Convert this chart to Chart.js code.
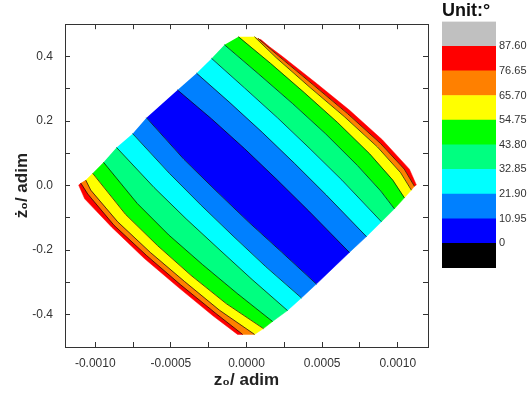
<!DOCTYPE html>
<html lang="en">

<head>
    <meta charset="UTF-8">
    <title>Contour map z0 / z0 dot</title>
    <script src="https://cdn.jsdelivr.net/npm/chart.js"></script>
    <style>
        body {
            margin: 0;
            background-color: #ffffff;
        }

        .wrap {
            position: relative;
            width: 528px;
            height: 397px;
        }

        #contour {
            position: absolute;
            left: 0;
            top: 0;
        }

        #colorbar {
            position: absolute;
            left: 432px;
            top: 0;
        }
    </style>
</head>

<body>
    <div class="wrap">
        <canvas id="contour" width="528" height="397"></canvas>
        <canvas id="colorbar" width="96" height="280"></canvas>
    </div>

    <script>
        // contour levels (degrees) and colour classes: below 0, 0-10.95, ..., above 87.60
        const levels = [0, 10.95, 21.90, 32.85, 43.80, 54.75, 65.70, 76.65, 87.60];
        const levelLabels = ['0', '10.95', '21.90', '32.85', '43.80', '54.75', '65.70', '76.65', '87.60'];
        const classColors = ['#000000', '#0000ff', '#0080ff', '#00ffff', '#00ff80', '#00ff00', '#ffff00', '#ff8000', '#ff0000', '#c0c0c0'];
        const barEdges = [-10.95, 0, 10.95, 21.90, 32.85, 43.80, 54.75, 65.70, 76.65, 87.60, 98.55];

        // axis ticks
        const xTicks = [-0.0010, -0.00075, -0.0005, -0.00025, 0, 0.00025, 0.0005, 0.00075, 0.0010];
        const xTickLabels = ['-0.0010', '', '-0.0005', '', '0.0000', '', '0.0005', '', '0.0010'];
        const yTicks = [-0.5, -0.4, -0.3, -0.2, -0.1, 0, 0.1, 0.2, 0.3, 0.4, 0.5];
        const yTickLabels = ['', '-0.4', '', '-0.2', '', '0.0', '', '0.2', '', '0.4', ''];

        // contour lines [z0, z0dot], each from the upper-left edge to the lower-right edge
        const edgeLow = [[-0.001110, 0.002], [-0.001070, -0.041], [-0.000891, -0.129], [-0.000677, -0.225], [-0.000451, -0.315], [-0.000220, -0.404], [-0.000059, -0.461]];
        const lowRed = [[-0.001096, 0.008], [-0.001050, -0.026], [-0.000876, -0.123], [-0.000660, -0.217], [-0.000434, -0.308], [-0.000203, -0.396], [-0.000026, -0.461]];
        const lowOrange = [[-0.001063, 0.017], [-0.001030, -0.014], [-0.000852, -0.112], [-0.000636, -0.207], [-0.000410, -0.297], [-0.000179, -0.386], [0.000053, -0.461]];
        const lowYellow = [[-0.001017, 0.038], [-0.000800, -0.089], [-0.000588, -0.186], [-0.000367, -0.278], [-0.000133, -0.366], [0.000112, -0.443]];
        const lowGreen = [[-0.000945, 0.072], [-0.000723, -0.055], [-0.000514, -0.153], [-0.000290, -0.245], [-0.000062, -0.334], [0.000172, -0.421]];
        const lowMint = [[-0.000859, 0.118], [-0.000611, -0.006], [-0.000399, -0.103], [-0.000182, -0.197], [0.000037, -0.291], [0.000271, -0.387]];
        const lowCyan = [[-0.000753, 0.161], [-0.000510, 0.038], [-0.000302, -0.060], [-0.000089, -0.156], [0.000127, -0.251], [0.000363, -0.348]];
        const lowAzure = [[-0.000661, 0.210], [-0.000413, 0.081], [-0.000202, -0.016], [0.000012, -0.112], [0.000230, -0.205], [0.000462, -0.305]];
        const upAzure = [[-0.000456, 0.296], [-0.000232, 0.207], [-0.000012, 0.114], [0.000202, 0.018], [0.000412, -0.079], [0.000680, -0.207]];
        const upCyan = [[-0.000330, 0.348], [-0.000115, 0.259], [0.000104, 0.165], [0.000317, 0.069], [0.000527, -0.029], [0.000793, -0.158]];
        const upMint = [[-0.000231, 0.394], [-0.000014, 0.303], [0.000205, 0.210], [0.000420, 0.114], [0.000631, 0.017], [0.000892, -0.112]];
        const upGreen = [[-0.000145, 0.436], [0.000082, 0.345], [0.000305, 0.254], [0.000524, 0.160], [0.000734, 0.062], [0.000888, -0.017], [0.000978, -0.072]];
        const upYellow = [[-0.000053, 0.461], [0.000158, 0.379], [0.000382, 0.288], [0.000603, 0.195], [0.000815, 0.098], [0.000967, 0.017], [0.001044, -0.038]];
        const upOrange = [[0.000053, 0.461], [0.000197, 0.396], [0.000420, 0.304], [0.000646, 0.214], [0.000865, 0.120], [0.001019, 0.040], [0.001090, -0.014]];
        const upRed = [[0.000076, 0.456], [0.000211, 0.402], [0.000439, 0.313], [0.000668, 0.223], [0.000887, 0.130], [0.001043, 0.051], [0.001110, -0.002]];
        const edgeUp = [[0.000093, 0.453], [0.000152, 0.430], [0.000238, 0.400], [0.000462, 0.317], [0.000680, 0.234], [0.000898, 0.142], [0.001077, 0.051], [0.001123, 0.002]];

        // colour class of each strip between two neighbouring lines
        const stripClass = [8, 7, 6, 5, 4, 3, 2, 1, 2, 3, 4, 5, 6, 7, 8];

        const lines = [edgeLow, lowRed, lowOrange, lowYellow, lowGreen, lowMint, lowCyan, lowAzure,
            upAzure, upCyan, upMint, upGreen, upYellow, upOrange, upRed, edgeUp];

        const toXY = arr => arr.map(p => ({ x: p[0], y: p[1] }));

        var datasets = [];

        // thin dark contour lines, drawn on top
        for (let i = 1; i < lines.length - 1; i++) {
            datasets.push({
                data: toXY(lines[i]),
                showLine: true,
                fill: false,
                borderColor: 'rgba(0,0,0,0.85)',
                borderWidth: 0.8,
                pointRadius: 0,
                order: 0
            });
        }

        // filled strips: line i and line i+1 reversed make a closed shape
        for (let i = 0; i < stripClass.length; i++) {
            const shape = lines[i].concat(lines[i + 1].slice().reverse());
            datasets.push({
                data: toXY(shape),
                showLine: true,
                fill: 'shape',
                backgroundColor: classColors[stripClass[i]],
                borderColor: classColors[stripClass[i]],
                borderWidth: 0.5,
                pointRadius: 0,
                order: 1
            });
        }

        var tickFont = { family: 'Liberation Sans', size: 12 };
        var titleFont = { family: 'Liberation Sans', size: 17, weight: 'bold' };
        var frame = { display: true, color: '#333333', width: 1 };

        function innerGrid() {
            return { display: true, drawOnChartArea: false, drawTicks: true, tickLength: -5, tickColor: '#333333', tickWidth: 1 };
        }

        var contourChart = new Chart(document.getElementById('contour').getContext('2d'), {
            type: 'scatter',
            data: { datasets: datasets },
            options: {
                responsive: false,
                animation: false,
                layout: { padding: { left: 0, right: 100, top: 20, bottom: 0 } },
                plugins: {
                    legend: { display: false },
                    tooltip: { enabled: false }
                },
                scales: {
                    x: {
                        type: 'linear',
                        position: 'bottom',
                        min: -0.0012,
                        max: 0.0012,
                        afterBuildTicks: s => { s.ticks = xTicks.map(v => ({ value: v })); },
                        afterFit: s => { s.height = 50; },
                        ticks: {
                            autoSkip: false,
                            maxRotation: 0,
                            padding: 14,
                            color: '#333333',
                            font: tickFont,
                            callback: (v, i) => xTickLabels[i]
                        },
                        grid: innerGrid(),
                        border: frame,
                        title: { display: true, text: 'z₀/ adim', color: '#222222', font: titleFont, padding: { top: 0, bottom: 6 } }
                    },
                    x2: {
                        type: 'linear',
                        position: 'top',
                        min: -0.0012,
                        max: 0.0012,
                        afterBuildTicks: s => { s.ticks = xTicks.map(v => ({ value: v })); },
                        afterFit: s => { s.height = 0; },
                        ticks: { display: false },
                        grid: innerGrid(),
                        border: frame
                    },
                    y: {
                        type: 'linear',
                        position: 'left',
                        min: -0.5,
                        max: 0.5,
                        afterBuildTicks: s => { s.ticks = yTicks.map(v => ({ value: v })); },
                        afterFit: s => { s.width = 65; },
                        ticks: {
                            autoSkip: false,
                            padding: 17,
                            color: '#333333',
                            font: tickFont,
                            callback: (v, i) => yTickLabels[i]
                        },
                        grid: innerGrid(),
                        border: frame,
                        title: { display: true, text: 'ż₀/ adim', color: '#222222', font: titleFont, padding: { top: 12, bottom: 0 } }
                    },
                    y2: {
                        type: 'linear',
                        position: 'right',
                        min: -0.5,
                        max: 0.5,
                        afterBuildTicks: s => { s.ticks = yTicks.map(v => ({ value: v })); },
                        afterFit: s => { s.width = 0; },
                        ticks: { display: false },
                        grid: innerGrid(),
                        border: frame
                    }
                }
            }
        });

        // colour scale on the right: one floating bar per colour class
        var barSets = classColors.map((c, i) => ({
            data: [[barEdges[i], barEdges[i + 1]]],
            backgroundColor: c,
            borderWidth: 0,
            grouped: false,
            barPercentage: 1,
            categoryPercentage: 1
        }));

        var colorbarChart = new Chart(document.getElementById('colorbar').getContext('2d'), {
            type: 'bar',
            data: { labels: [''], datasets: barSets },
            options: {
                responsive: false,
                animation: false,
                layout: { padding: { left: 10, right: 0, top: 0, bottom: 12 } },
                plugins: {
                    legend: { display: false },
                    tooltip: { enabled: false },
                    title: {
                        display: true,
                        text: 'Unit:°',
                        align: 'start',
                        color: '#111111',
                        font: { family: 'Liberation Sans', size: 18, weight: 'bold' },
                        padding: { top: 0, bottom: 0 }
                    }
                },
                scales: {
                    x: { display: false },
                    y: {
                        position: 'right',
                        min: -10.95,
                        max: 98.55,
                        afterBuildTicks: s => { s.ticks = levels.map(v => ({ value: v })); },
                        afterFit: s => { s.width = 32; },
                        grid: { display: false, drawTicks: false },
                        border: { display: false },
                        ticks: {
                            padding: 3,
                            color: '#333333',
                            font: { family: 'Liberation Sans', size: 11 },
                            callback: (v, i) => levelLabels[i]
                        }
                    }
                }
            }
        });
    </script>
</body>

</html>
